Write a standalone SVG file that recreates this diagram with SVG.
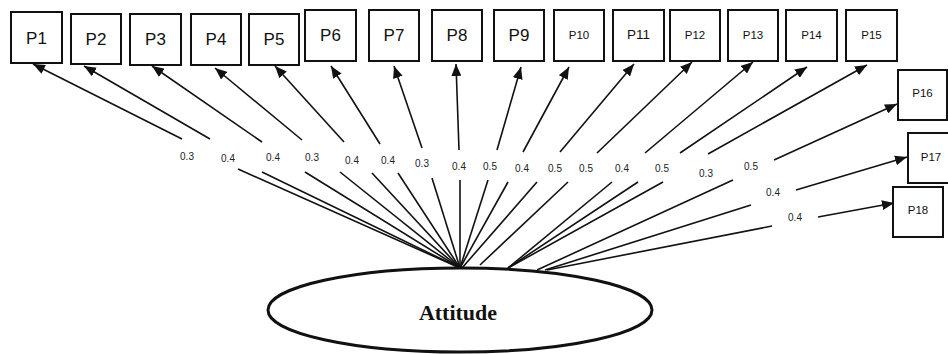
<svg xmlns="http://www.w3.org/2000/svg" width="948" height="354" viewBox="0 0 948 354">
<style>
.box{fill:#fff;stroke:#111;stroke-width:2}
.lbl{font-family:"Liberation Sans",Arial,sans-serif;fill:#111;text-anchor:middle;dominant-baseline:central}
.big{font-size:17px}
.mid{font-size:13.5px}
.sm{font-size:11.5px}
.w{font-family:"Liberation Sans",Arial,sans-serif;font-size:10px;fill:#222;text-anchor:middle;dominant-baseline:central}
.c{stroke:#111;stroke-width:1.6;fill:none}
.a{marker-end:url(#ah)}
</style>
<defs>
<marker id="ah" markerUnits="userSpaceOnUse" markerWidth="12" markerHeight="10" refX="12" refY="5" orient="auto">
<path d="M0,0 L12,5 L0,10 z" fill="#111"/>
</marker>
</defs>
<rect width="948" height="354" fill="#fff"/>
<g id="connectors">
<line class="c" x1="460" y1="268" x2="238" y2="169"/><line class="c a" x1="182" y1="139" x2="33" y2="64"/>
<line class="c" x1="460" y1="268" x2="262" y2="172"/><line class="c a" x1="210" y1="139" x2="84" y2="66"/>
<line class="c" x1="460" y1="268" x2="305" y2="172"/><line class="c a" x1="262" y1="142" x2="152" y2="66"/>
<line class="c" x1="460" y1="268" x2="340" y2="172"/><line class="c a" x1="302" y1="140" x2="215" y2="68"/>
<line class="c" x1="460" y1="268" x2="372" y2="173"/><line class="c a" x1="344" y1="142" x2="275" y2="66"/>
<line class="c" x1="460" y1="268" x2="398" y2="173"/><line class="c a" x1="380" y1="144" x2="331" y2="66"/>
<line class="c" x1="460" y1="268" x2="432" y2="178"/><line class="c a" x1="422" y1="148" x2="394" y2="66"/>
<line class="c" x1="460" y1="268" x2="460" y2="180"/><line class="c a" x1="459" y1="150" x2="456" y2="64"/>
<line class="c" x1="460" y1="268" x2="488" y2="180"/><line class="c a" x1="497" y1="150" x2="521" y2="67"/>
<line class="c" x1="460" y1="268" x2="508" y2="182"/><line class="c a" x1="523" y1="152" x2="569" y2="67"/>
<line class="c" x1="462" y1="268" x2="537" y2="182"/><line class="c a" x1="560" y1="152" x2="634" y2="64"/>
<line class="c" x1="480" y1="265" x2="568" y2="182"/><line class="c a" x1="597" y1="153" x2="692" y2="62"/>
<line class="c" x1="508" y1="268" x2="612" y2="182"/><line class="c a" x1="645" y1="153" x2="753" y2="62"/>
<line class="c" x1="508" y1="268" x2="638" y2="182"/><line class="c a" x1="680" y1="153" x2="807" y2="67"/>
<line class="c" x1="508" y1="268" x2="663" y2="182"/><line class="c a" x1="708" y1="154" x2="867" y2="65"/>
<line class="c" x1="537" y1="270" x2="733" y2="180"/><line class="c a" x1="774" y1="160" x2="897" y2="104"/>
<line class="c" x1="545" y1="270" x2="751" y2="205"/><line class="c a" x1="796" y1="190" x2="907" y2="157"/>
<line class="c" x1="547" y1="270" x2="772" y2="226"/><line class="c a" x1="818" y1="217" x2="894" y2="203"/>
</g>
<g id="weights">
<text class="w" x="187" y="156">0.3</text>
<text class="w" x="228" y="158">0.4</text>
<text class="w" x="273" y="157">0.4</text>
<text class="w" x="312" y="157">0.3</text>
<text class="w" x="352" y="160">0.4</text>
<text class="w" x="388" y="160">0.4</text>
<text class="w" x="422" y="163">0.3</text>
<text class="w" x="459" y="166">0.4</text>
<text class="w" x="490" y="166">0.5</text>
<text class="w" x="522" y="168">0.4</text>
<text class="w" x="555" y="168">0.5</text>
<text class="w" x="586" y="168">0.5</text>
<text class="w" x="622" y="168">0.4</text>
<text class="w" x="662" y="168">0.5</text>
<text class="w" x="706" y="173">0.3</text>
<text class="w" x="751" y="166">0.5</text>
<text class="w" x="773" y="192">0.4</text>
<text class="w" x="795" y="217">0.4</text>
</g>
<g id="Attitude">
<ellipse cx="460" cy="310" rx="192" ry="42" fill="#fff" stroke="#111" stroke-width="3"/>
<text x="458" y="320" font-family="'Liberation Serif','Times New Roman',serif" font-weight="bold" font-size="22" text-anchor="middle" fill="#111">Attitude</text>
</g>
<g id="P1"><rect class="box" x="11" y="12" width="51" height="51"/><text class="lbl big" x="36.5" y="38">P1</text></g>
<g id="P2"><rect class="box" x="71" y="14" width="50" height="50"/><text class="lbl big" x="96" y="39">P2</text></g>
<g id="P3"><rect class="box" x="130" y="14" width="51" height="51"/><text class="lbl big" x="155.5" y="39">P3</text></g>
<g id="P4"><rect class="box" x="191" y="14" width="50" height="51"/><text class="lbl big" x="216" y="39">P4</text></g>
<g id="P5"><rect class="box" x="249" y="14" width="50" height="51"/><text class="lbl big" x="274" y="39">P5</text></g>
<g id="P6"><rect class="box" x="305" y="10" width="51" height="51"/><text class="lbl big" x="330.5" y="35">P6</text></g>
<g id="P7"><rect class="box" x="369" y="10" width="50" height="51"/><text class="lbl big" x="394" y="35">P7</text></g>
<g id="P8"><rect class="box" x="432" y="10" width="50" height="51"/><text class="lbl big" x="457" y="35">P8</text></g>
<g id="P9"><rect class="box" x="494" y="10" width="50" height="51"/><text class="lbl big" x="519" y="35">P9</text></g>
<g id="P10"><rect class="box" x="554" y="10" width="50" height="51"/><text class="lbl sm" x="579" y="35">P10</text></g>
<g id="P11"><rect class="box" x="613" y="10" width="51" height="51"/><text class="lbl mid" x="638.5" y="34">P11</text></g>
<g id="P12"><rect class="box" x="670" y="10" width="50" height="51"/><text class="lbl sm" x="695" y="35">P12</text></g>
<g id="P13"><rect class="box" x="728" y="10" width="50" height="51"/><text class="lbl sm" x="753" y="35">P13</text></g>
<g id="P14"><rect class="box" x="786" y="10" width="51" height="51"/><text class="lbl sm" x="811.5" y="35">P14</text></g>
<g id="P15"><rect class="box" x="846" y="10" width="51" height="51"/><text class="lbl sm" x="871.5" y="35">P15</text></g>
<g id="P16"><rect class="box" x="898" y="70" width="49" height="50"/><text class="lbl sm" x="922.5" y="93">P16</text></g>
<g id="P17"><rect class="box" x="908" y="133" width="50" height="50"/><text class="lbl sm" x="931" y="157">P17</text></g>
<g id="P18"><rect class="box" x="893" y="187" width="50" height="50"/><text class="lbl sm" x="918" y="210">P18</text></g>
</svg>
